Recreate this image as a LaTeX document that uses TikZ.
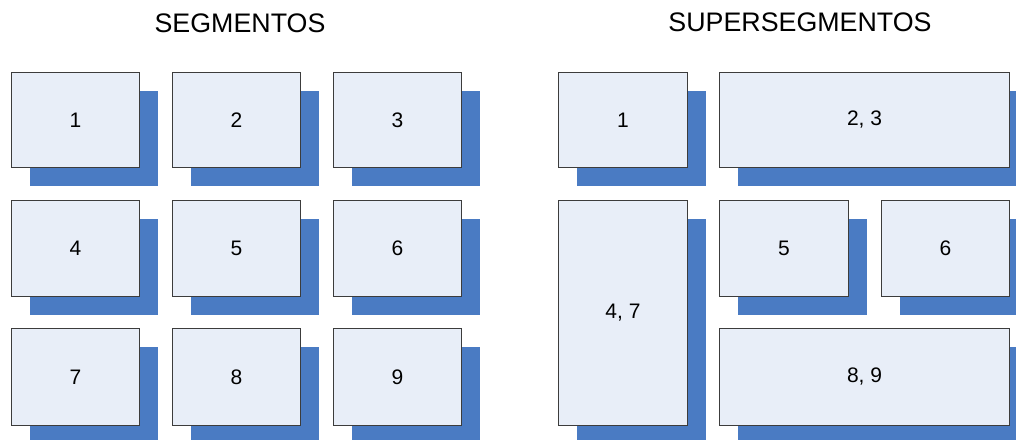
\documentclass[tikz,border=0pt]{standalone}
\usepackage{fontspec}
\setmainfont{Liberation Sans}
\definecolor{boxfill}{HTML}{E8EEF8}
\definecolor{shadowblue}{HTML}{4A7BC3}
\definecolor{boxline}{HTML}{3C3C3C}
\begin{document}
\begin{tikzpicture}[x=1pt,y=-1pt,
  seg/.style={draw=boxline,line width=1pt,fill=boxfill,
    font=\fontsize{21}{25}\selectfont},
  shade/.style={fill=shadowblue,draw=none},
  title/.style={font=\fontsize{26.8}{30}\selectfont,inner sep=0pt}]
\useasboundingbox (0,0) rectangle (1016,439);
\clip (0,0) rectangle (1016,439);
% shadows
\foreach \x/\y/\w/\h in {11/72/128/95,172/72/128/95,333/72/128/95,
  11/200/128/96,172/200/128/96,333/200/128/96,
  11/328/128/97,172/328/128/97,333/328/128/97,
  558/72/129/95,719/72/290/95,558/200/129/225,719/200/129/96,881/200/128/96,719/328/290/97}
  \fill[shade] (\x+19,\y+19) rectangle ++(\w,\h);
% boxes
\node[seg,minimum width=128pt,minimum height=95pt,anchor=north west] (s1) at (11,72) {1};
\node[seg,minimum width=128pt,minimum height=95pt,anchor=north west] (s2) at (172,72) {2};
\node[seg,minimum width=128pt,minimum height=95pt,anchor=north west] (s3) at (333,72) {3};
\node[seg,minimum width=128pt,minimum height=96pt,anchor=north west] (s4) at (11,200) {4};
\node[seg,minimum width=128pt,minimum height=96pt,anchor=north west] (s5) at (172,200) {5};
\node[seg,minimum width=128pt,minimum height=96pt,anchor=north west] (s6) at (333,200) {6};
\node[seg,minimum width=128pt,minimum height=97pt,anchor=north west] (s7) at (11,328) {7};
\node[seg,minimum width=128pt,minimum height=97pt,anchor=north west] (s8) at (172,328) {8};
\node[seg,minimum width=128pt,minimum height=97pt,anchor=north west] (s9) at (333,328) {9};
\node[seg,minimum width=129pt,minimum height=95pt,anchor=north west] (p1) at (558,72) {1};
\node[seg,minimum width=290pt,minimum height=95pt,anchor=north west] (p23) at (719,72) {2, 3};
\node[seg,minimum width=129pt,minimum height=225pt,anchor=north west] (p47) at (558,200) {4, 7};
\node[seg,minimum width=129pt,minimum height=96pt,anchor=north west] (p5) at (719,200) {5};
\node[seg,minimum width=128pt,minimum height=96pt,anchor=north west] (p6) at (881,200) {6};
\node[seg,minimum width=290pt,minimum height=97pt,anchor=north west] (p89) at (719,328) {8, 9};
% titles
\node[title] (t1) at (240,23) {SEGMENTOS};
\node[title] (t2) at (800,22) {SUPERSEGMENTOS};
\end{tikzpicture}
\end{document}
